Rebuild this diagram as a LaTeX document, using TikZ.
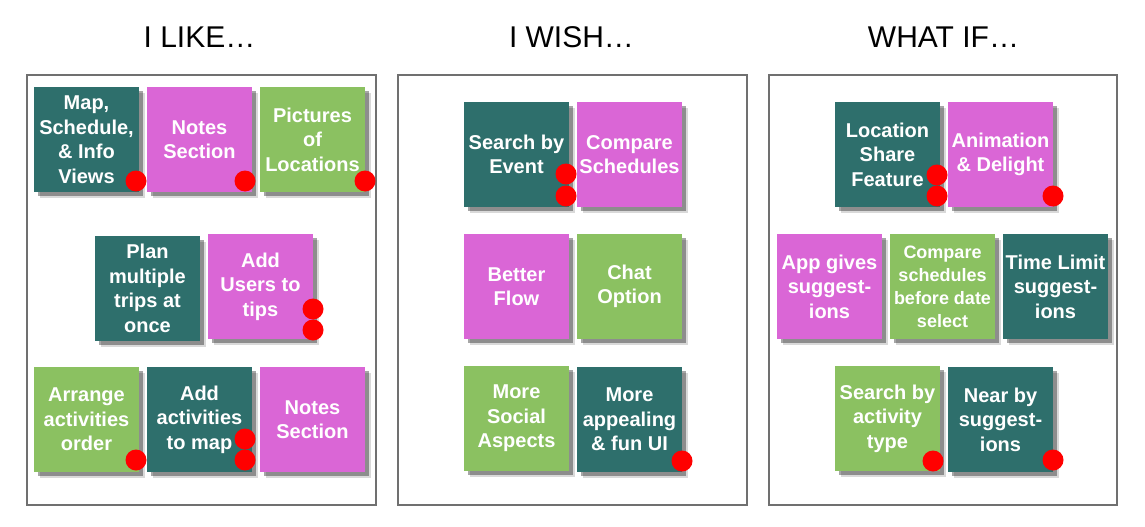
\documentclass[tikz,border=0pt]{standalone}
\usepackage{fontspec}
\setmainfont{Liberation Sans}
\usetikzlibrary{shadows}

\definecolor{noteteal}{RGB}{46,111,108}
\definecolor{notepink}{RGB}{218,102,214}
\definecolor{notegreen}{RGB}{139,193,97}
\definecolor{framegray}{RGB}{112,112,112}

\begin{document}
\begin{tikzpicture}[x=1pt,y=-1pt,
  note/.style={minimum width=105pt,minimum height=105pt,inner sep=0,outer sep=0,align=center,text=white,
    font=\fontsize{20}{24.5}\selectfont\bfseries,
    drop shadow={shadow xshift=6pt,shadow yshift=-6pt,opacity=0.15,fill=black},
    drop shadow={shadow xshift=4pt,shadow yshift=-4pt,opacity=0.35,fill=black}},
  tealnote/.style={note,fill=noteteal},
  pinknote/.style={note,fill=notepink},
  greennote/.style={note,fill=notegreen},
  dot/.style={circle,fill=red,minimum size=21pt,inner sep=0,outer sep=0},
  panel/.style={draw=framegray,line width=2.5pt},
  heading/.style={anchor=base,font=\fontsize{30}{36}\selectfont}]
\useasboundingbox (0,0) rectangle (1145,527);

\node[heading] (LIKE) at (199.5,48) {I LIKE…};
\node[heading] (WISH) at (571.5,48) {I WISH…};
\node[heading] (WHATIF) at (943.5,48) {WHAT IF…};

\draw[panel] (27,75) rectangle (376,505);
\draw[panel] (398,75) rectangle (747,505);
\draw[panel] (769,75) rectangle (1117,505);

% I like
\node[tealnote] (MAP) at (86.5,139.5) {Map,\\Schedule,\\\& Info\\Views};
\node[pinknote] (NOTES) at (199.5,139.5) {Notes\\Section};
\node[greennote] (PICS) at (312.5,139.5) {Pictures\\of\\Locations};
\node[tealnote] (PLAN) at (147.5,288.5) {Plan\\multiple\\trips at\\once};
\node[pinknote] (USERS) at (260.5,286.5) {Add\\Users to\\tips};
\node[greennote] (ARRANGE) at (86.5,419.5) {Arrange\\activities\\order};
\node[tealnote] (ACTS) at (199.5,419.5) {Add\\activities\\to map};
\node[pinknote] (NOTESB) at (312.5,419.5) {Notes\\Section};

% I wish
\node[tealnote] (EVENT) at (516.5,154.5) {Search by\\Event};
\node[pinknote] (COMPARE) at (629.5,154.5) {Compare\\Schedules};
\node[pinknote] (FLOW) at (516.5,286.5) {Better\\Flow};
\node[greennote] (CHAT) at (629.5,286.5) {Chat\\Option};
\node[greennote] (SOCIAL) at (516.5,418.5) {More\\Social\\Aspects};
\node[tealnote] (FUNUI) at (629.5,419.5) {More\\appealing\\\& fun UI};

% What if
\node[tealnote] (SHARE) at (887.5,154.5) {Location\\Share\\Feature};
\node[pinknote] (ANIM) at (1000.5,154.5) {Animation\\\& Delight};
\node[pinknote] (GIVES) at (829.5,286.5) {App gives\\suggest-\\ions};
\node[greennote,font=\fontsize{18}{23}\selectfont\bfseries] (BEFORE) at (942.5,286.5) {Compare\\schedules\\before date\\select};
\node[tealnote] (LIMIT) at (1055.5,286.5) {Time Limit\\suggest-\\ions};
\node[greennote] (TYPE) at (887.5,418.5) {Search by\\activity\\type};
\node[tealnote] (NEAR) at (1000.5,419.5) {Near by\\suggest-\\ions};

% dots
\node[dot] (D1) at (136,181) {};
\node[dot] (D2) at (245,181) {};
\node[dot] (D3) at (365,181) {};
\node[dot] (D4) at (313,309) {};
\node[dot] (D5) at (313,330) {};
\node[dot] (D6) at (136,460) {};
\node[dot] (D7) at (245,439) {};
\node[dot] (D8) at (245,460) {};
\node[dot] (D9) at (566,174) {};
\node[dot] (D10) at (566,196) {};
\node[dot] (D11) at (682,461) {};
\node[dot] (D12) at (937,175) {};
\node[dot] (D13) at (937,196) {};
\node[dot] (D14) at (1053,196) {};
\node[dot] (D15) at (933,461) {};
\node[dot] (D16) at (1053,460) {};
\end{tikzpicture}
\end{document}
